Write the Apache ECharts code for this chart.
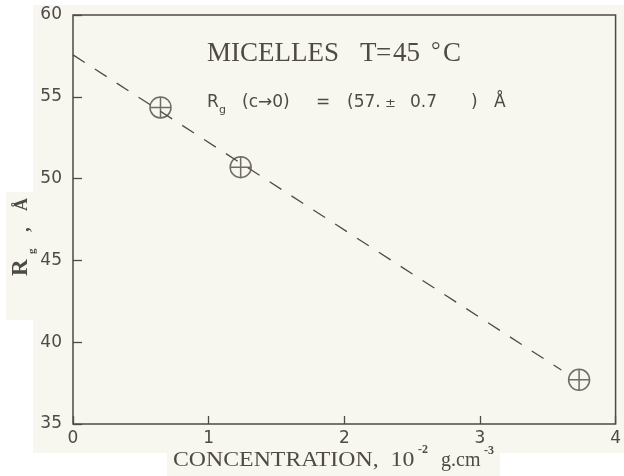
<!DOCTYPE html>
<html>
<head>
<meta charset="utf-8">
<script src="https://cdn.jsdelivr.net/npm/echarts@6/dist/echarts.min.js"></script>
<style>
  html, body { margin: 0; padding: 0; background: #ffffff; }
  #chart { width: 624px; height: 476px; }
</style>
</head>
<body>
<div id="chart"></div>
<script>
// Measured radius of gyration of micelles vs. concentration
const concentration = [0.645, 1.236, 3.731];
const radiusGyration = [54.35, 50.7, 37.7];

// Linear extrapolation to zero concentration
const fitX = [0, 3.6];
const fitY = [57.56, 38.3];

const xTicks = [0, 1, 2, 3, 4];
const yTicks = [35, 40, 45, 50, 55, 60];

const ink = '#4f4a46';
const paper = '#f7f6ef';
const serif = '"Liberation Serif", "DejaVu Serif", serif';
const sans = '"DejaVu Sans", "Liberation Sans", sans-serif';

// Circle with a cross inside
const crossCircle = 'path://M0,-10A10,10 0 1,1 0,10A10,10 0 1,1 0,-10M-10,0L10,0M0,-10L0,10';

function label(x, y, text, font, extra) {
  return Object.assign({
    type: 'text', x: x, y: y, z: 10,
    style: { text: text, font: font, fill: ink, verticalAlign: 'middle', align: 'left' }
  }, extra || {});
}

const chart = echarts.init(document.getElementById('chart'));
chart.setOption({
  backgroundColor: '#ffffff',
  animation: false,
  graphic: [
    { type: 'rect', z: -10, shape: { x: 33, y: 5, width: 591, height: 448 }, style: { fill: paper } },
    { type: 'rect', z: -10, shape: { x: 167, y: 453, width: 333, height: 23 }, style: { fill: paper } },
    { type: 'rect', z: -10, shape: { x: 6, y: 192, width: 30, height: 128 }, style: { fill: paper } },

    // title
    label(207, 54, 'MICELLES', '27px ' + serif),
    label(360, 54, 'T', '27px ' + serif),
    label(376, 54, '=', '27px ' + serif),
    label(393, 54, '45', '27px ' + serif),
    label(431, 52, '\u00b0', '24px ' + serif),
    label(443, 54, 'C', '27px ' + serif),

    // extrapolated value
    label(207, 103, 'R', '17px ' + sans),
    label(219, 110, 'g', '11px ' + sans),
    label(242, 103, '(c\u21920)', '17px ' + sans),
    label(316, 103, '=', '17px ' + sans),
    label(347, 103, '(57.', '17px ' + sans),
    label(385, 104, '\u00b1', '13px ' + sans),
    label(410, 103, '0.7', '17px ' + sans),
    label(471, 103, ')', '17px ' + sans),
    label(494, 103, '\u00c5', '17px ' + sans),

    // x axis name
    label(173, 461, 'CONCENTRATION,  10', '20px ' + serif, { scaleX: 1.19 }),
    label(418, 450, '-2', 'bold 12px ' + serif),
    label(441, 461, 'g.cm', '20px ' + serif),
    label(484, 451, '-3', 'bold 12px ' + serif),

    // y axis name (rotated, reading upward)
    label(21, 276, 'R', 'bold 23px ' + serif, { rotation: Math.PI / 2 }),
    label(32, 254, 'g', 'bold 11px ' + serif, { rotation: Math.PI / 2 }),
    label(24, 232, ',', 'bold 19px ' + serif, { rotation: Math.PI / 2 }),
    label(22, 211, '\u00c5', 'bold 18px ' + serif, { rotation: Math.PI / 2 })
  ],
  grid: {
    left: 73, right: 8, top: 15, bottom: 52,
    show: true, borderColor: ink, borderWidth: 1.5, backgroundColor: 'transparent'
  },
  xAxis: {
    type: 'value', min: xTicks[0], max: xTicks[xTicks.length - 1], interval: 1,
    splitLine: { show: false },
    axisLine: { show: false },
    axisTick: { show: true, inside: true, length: 8, lineStyle: { color: ink, width: 1.3 } },
    axisLabel: { color: ink, fontSize: 17, margin: 6, fontFamily: sans }
  },
  yAxis: {
    type: 'value', min: yTicks[0], max: yTicks[yTicks.length - 1], interval: 5,
    splitLine: { show: false },
    axisLine: { show: false },
    axisTick: { show: true, inside: true, length: 9, lineStyle: { color: ink, width: 1.3 } },
    axisLabel: { color: ink, fontSize: 17, margin: 11, fontFamily: sans, padding: [6, 0, 0, 0] }
  },
  series: [
    {
      type: 'line',
      data: fitX.map((x, i) => [x, fitY[i]]),
      symbol: 'none',
      lineStyle: { color: ink, width: 1.3, type: [14, 12] },
      silent: true
    },
    {
      type: 'scatter',
      data: concentration.map((x, i) => [x, radiusGyration[i]]),
      symbol: crossCircle,
      symbolSize: 21,
      symbolKeepAspect: true,
      itemStyle: { color: 'rgba(0,0,0,0)', borderColor: ink, borderWidth: 1.5 }
    }
  ]
});
</script>
</body>
</html>
